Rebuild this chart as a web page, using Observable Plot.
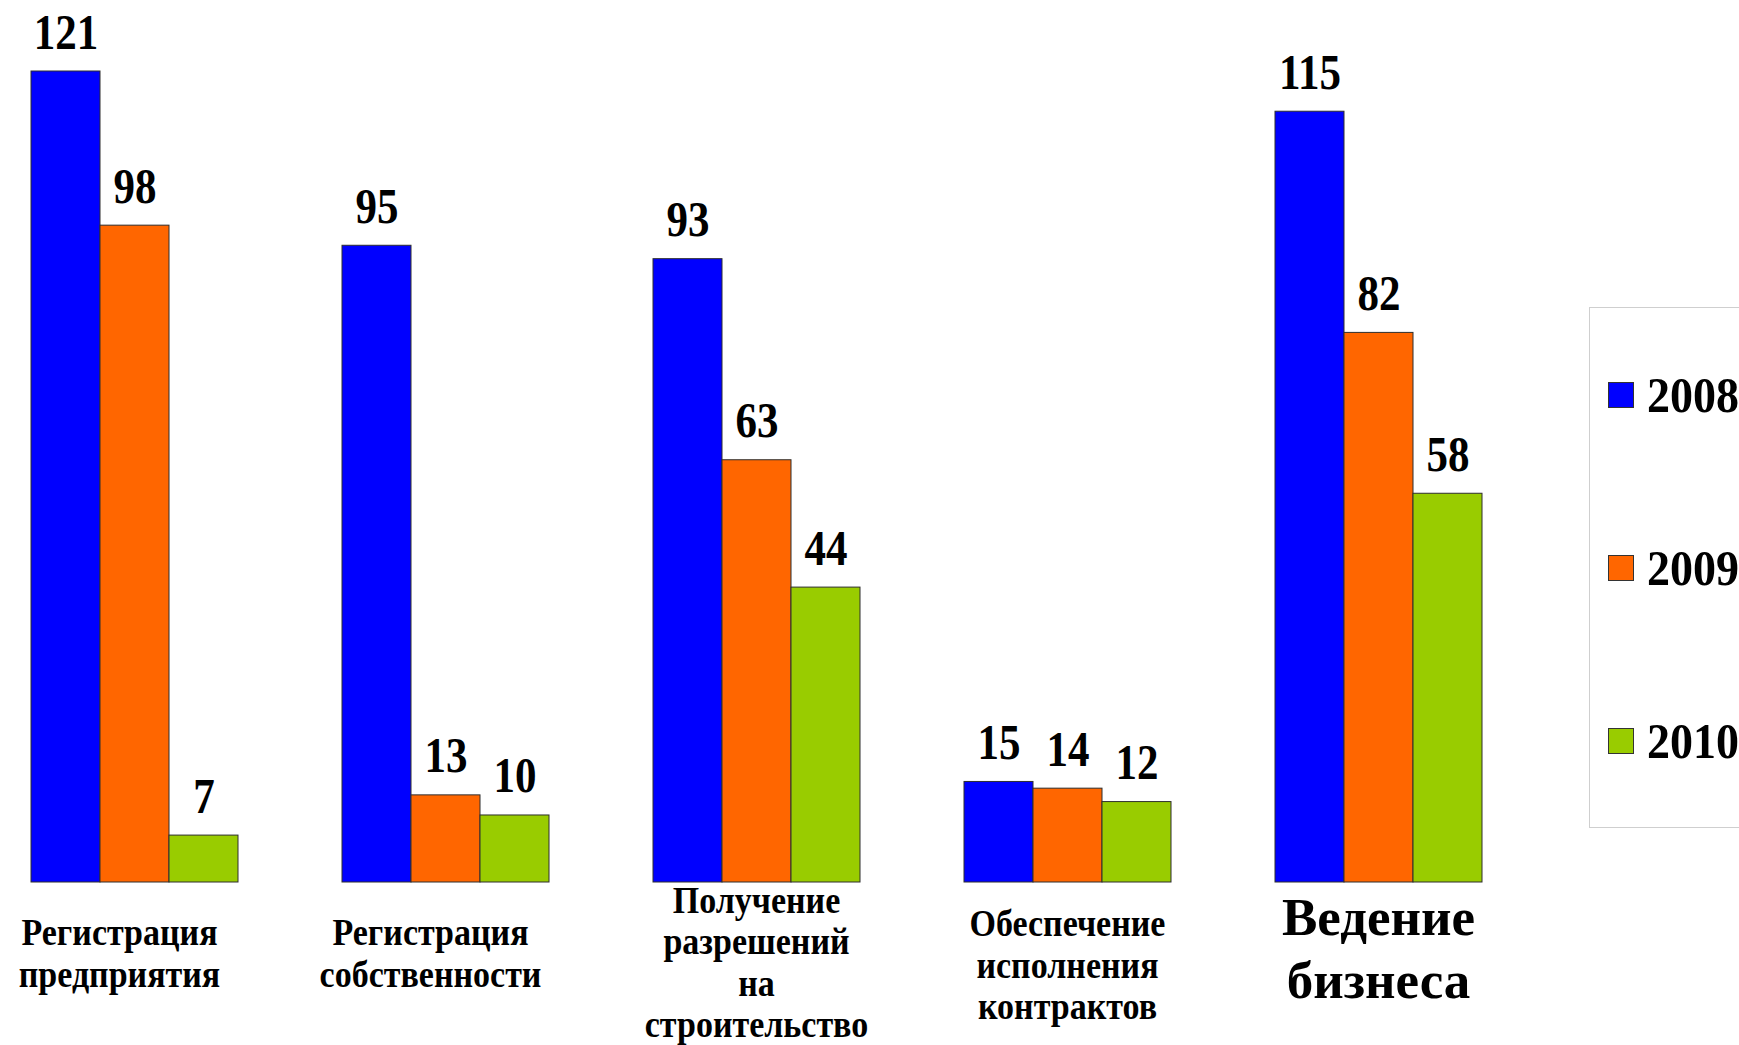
<!DOCTYPE html>
<html>
<head>
<meta charset="utf-8">
<script src="https://cdn.jsdelivr.net/npm/d3@7"></script>
<script src="https://cdn.jsdelivr.net/npm/@observablehq/plot@0.6"></script>
<style>
  html, body { margin: 0; padding: 0; background: #fff; overflow: hidden; }
  #wrap { position: relative; width: 1739px; height: 1045px; overflow: hidden; }
  #legend {
    position: absolute; left: 1589px; top: 307px; width: 200px; height: 521px;
    border: 1px solid #cfcfcf; box-sizing: border-box; background: #fff;
    display: flex; flex-direction: column; justify-content: space-around;
  }
  .item { display: flex; align-items: center; height: 50px; }
  .sw { width: 26px; height: 26px; box-sizing: border-box; border: 1px solid #333; margin-left: 18px; margin-right: 13px; }
  .lab { display: inline-block; font-family: "Liberation Serif", serif; font-weight: bold; font-size: 46px; color: #000;
         transform: scaleY(1.12); transform-origin: 50% 55%; }
</style>
</head>
<body>
<div id="wrap"><div id="chart"></div><div id="legend"></div></div>
<script>
const categories = [
  "Регистрация\nпредприятия",
  "Регистрация\nсобственности",
  "Получение\nразрешений\nна\nстроительство",
  "Обеспечение\nисполнения\nконтрактов",
  "Ведение\nбизнеса"
];
const years = ["2008", "2009", "2010"];
const values2008 = [121, 95, 93, 15, 115];
const values2009 = [98, 13, 63, 14, 82];
const values2010 = [7, 10, 44, 12, 58];
const colors = ["#0000ff", "#ff6600", "#99cc00"];

const series = [values2008, values2009, values2010];
const data = [];
categories.forEach((c, i) => years.forEach((y, j) => data.push({cat: c, year: y, value: series[j][i]})));

const FONT = "Liberation Serif, Times New Roman, serif";
const catsA = categories.slice(0, 2);
const catsB = categories.slice(2, 3);
const catsD = categories.slice(3, 4);
const catsC = categories.slice(4);
const labelStyle = {fontWeight: "bold", fontFamily: FONT, fill: "#000", lineAnchor: "middle", frameAnchor: "bottom"};

const chart = Plot.plot({
  width: 1739,
  height: 1045,
  marginLeft: 29,
  marginRight: 255,
  marginTop: 71,
  marginBottom: 163,
  style: {background: "#fff", fontFamily: FONT},
  fx: {domain: categories, paddingInner: 0.331, paddingOuter: 0, axis: null, label: null},
  x: {domain: years, padding: 0, axis: null, label: null},
  y: {domain: [0, 121], axis: null, label: null},
  color: {domain: years, range: colors},
  marks: [
    Plot.barY(data, {fx: "cat", x: "year", y: "value", fill: "year", stroke: "#2e2e2e", strokeWidth: 1}),
    Plot.text(data, {fx: "cat", x: "year", y: "value", text: d => String(d.value), dy: -23, lineAnchor: "bottom",
      fontSize: 43, fontWeight: "bold", fontFamily: FONT, fill: "#000"}),
    Plot.text(catsA, {fx: d => d, text: d => d, dy: 70, dx: -15, lineHeight: 1.11, fontSize: 34, ...labelStyle}),
    Plot.text(catsB, {fx: d => d, text: d => d, dy: 79, lineHeight: 1.11, fontSize: 34, ...labelStyle}),
    Plot.text(catsD, {fx: d => d, text: d => d, dy: 82, lineHeight: 1.11, fontSize: 34, ...labelStyle}),
    Plot.text(catsC, {fx: d => d, text: d => d, dy: 64, lineHeight: 1.19, fontSize: 53, ...labelStyle})
  ]
});

// Stretch glyphs vertically about their anchor, as in the reference's tall Times lettering
d3.select(chart).selectAll("text").each(function () {
  const t = this.getAttribute("transform");
  if (!t) return;
  const txt = this.textContent;
  let k = 1.1;
  if (/^\d+$/.test(txt)) k = 1.2;
  else if (txt.startsWith("Ведение")) k = 1.0;
  this.setAttribute("transform", t + ` scale(1,${k})`);
});
document.getElementById("chart").appendChild(chart);

const legend = document.getElementById("legend");
years.forEach((y, j) => {
  const item = document.createElement("div");
  item.className = "item";
  const sw = document.createElement("div");
  sw.className = "sw";
  sw.style.background = colors[j];
  const lab = document.createElement("span");
  lab.className = "lab";
  lab.textContent = y;
  item.appendChild(sw);
  item.appendChild(lab);
  legend.appendChild(item);
});
</script>
</body>
</html>
